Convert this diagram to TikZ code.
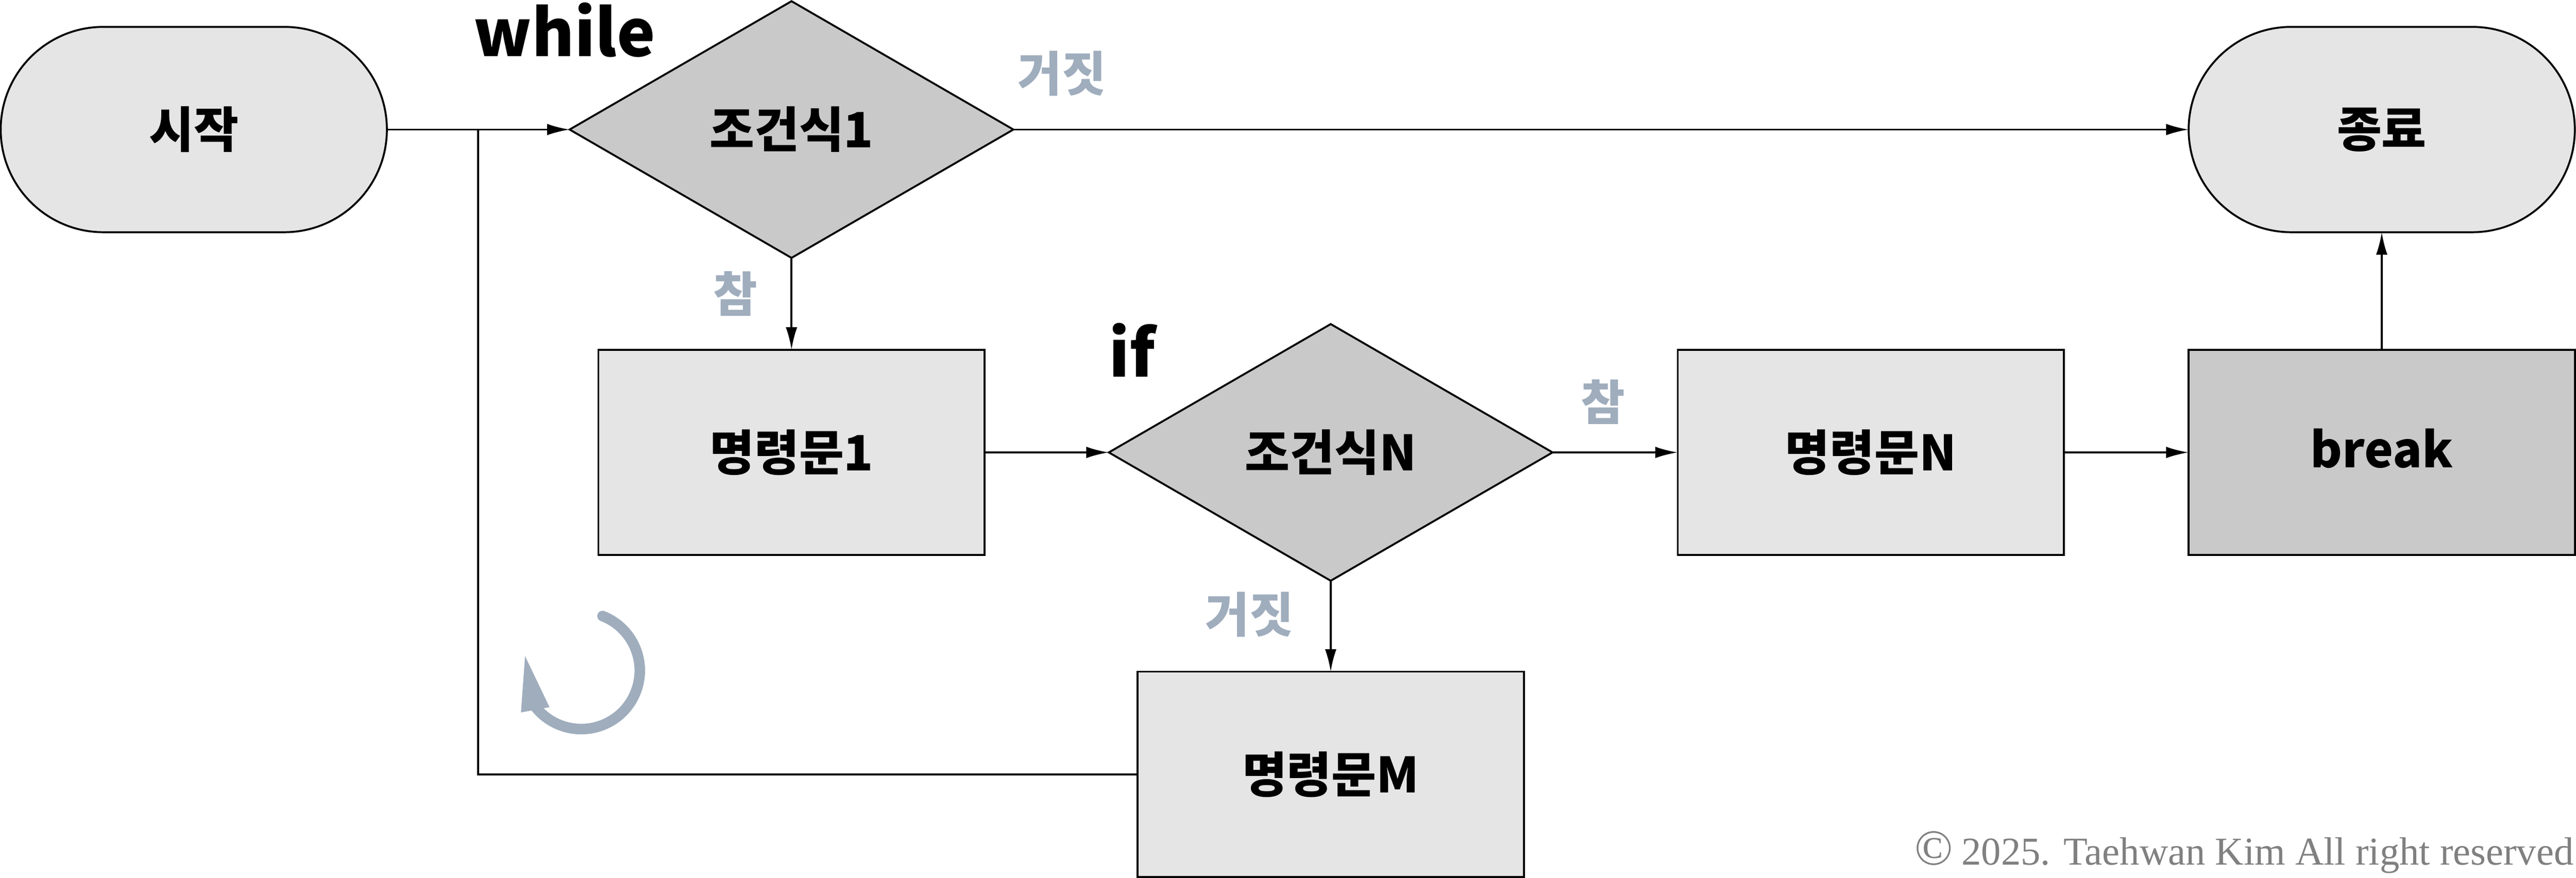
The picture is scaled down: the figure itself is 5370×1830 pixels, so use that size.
\documentclass[tikz,border=0pt]{standalone}
\usepackage{fontspec}
\setmainfont{Noto Sans CJK KR}
\newfontfamily\copyfont{Liberation Serif}
\usetikzlibrary{shapes.geometric,arrows.meta}
\definecolor{lightbox}{HTML}{E5E5E5}
\definecolor{darkbox}{HTML}{C9C9C9}
\definecolor{slatelabel}{HTML}{9FADBD}
\definecolor{copygray}{HTML}{808080}
\tikzset{
  x=0.2pt,y=-0.2pt,
  every node/.style={inner sep=0pt,outer sep=0pt,text=black,font=\fontsize{20.3}{24}\selectfont\bfseries},
  base/.style={draw=black,line width=0.8pt},
  terminal/.style={base,fill=lightbox,rectangle,rounded corners=42.8pt,minimum width=161pt,minimum height=85.6pt},
  procbox/.style={base,fill=lightbox,rectangle,minimum width=161pt,minimum height=85.6pt},
  breakbox/.style={procbox,fill=darkbox},
  decision/.style={base,fill=darkbox,diamond,minimum width=185pt,minimum height=107pt},
  keyword/.style={font=\fontsize{27}{30}\selectfont\bfseries},
  branch/.style={text=slatelabel,font=\fontsize{20}{24}\selectfont\bfseries},
  flow/.style={draw=black,line width=0.8pt,-{Latex[length=9.4pt,width=4.8pt]}},
  plain/.style={draw=black,line width=0.8pt},
}
\begin{document}
\begin{tikzpicture}
\useasboundingbox (0,0) rectangle (5370,1830);
\node[terminal] (start) at (404,270) {\raisebox{0.6pt}{시작}};
\node[decision] (c1) at (1650,270) {\raisebox{0.6pt}{조건식1}};
\node[terminal] (end) at (4965,270) {\raisebox{0.6pt}{종료}};
\node[procbox] (s1) at (1650,943) {\raisebox{1.3pt}{명령문1}};
\node[decision] (cn) at (2774,943) {\raisebox{1.4pt}{조건식N}};
\node[procbox] (sn) at (3900,943) {\raisebox{1.3pt}{명령문N}};
\node[breakbox] (brk) at (4965,943) {\raisebox{3.6pt}{break}};
\node[procbox] (sm) at (2774,1614) {\raisebox{0.8pt}{명령문M}};
\coordinate (joint) at (997,270);
\coordinate (corner) at (997,1614);
\draw[flow] (start) -- (c1);
\draw[flow] (c1) -- (end);
\draw[flow] (c1) -- (s1);
\draw[flow] (s1) -- (cn);
\draw[flow] (cn) -- (sn);
\draw[flow] (sn) -- (brk);
\draw[flow] (brk) -- (end);
\draw[flow] (cn) -- (sm);
\draw[plain] (sm) -- (corner) -- (joint);
\node[keyword,anchor=center] (kw1) at (1177,62) {while};
\node[keyword,anchor=center] (kw2) at (2360,730) {if};
\node[branch] (l1) at (2214,153) {거짓};
\node[branch] (l2) at (1533,612) {참};
\node[branch] (l3) at (2605,1281) {거짓};
\node[branch] (l4) at (3341,838) {참};
\draw[slatelabel,line width=4.4pt,line cap=round] (1256,1284) arc[start angle=68.7,end angle=-141.2,radius=24.4pt];
\fill[slatelabel] (1094.5,1367.5) -- (1086,1485) -- (1145.5,1474) -- cycle;
\node[anchor=base east,text=copygray,font=\fontsize{16.45}{20}\selectfont\copyfont] (copy) at (5365,1803) {{\fontsize{21}{20}\selectfont ©}\hspace{3.6pt}2025. Taehwan Kim All right reserved};
\end{tikzpicture}
\end{document}
